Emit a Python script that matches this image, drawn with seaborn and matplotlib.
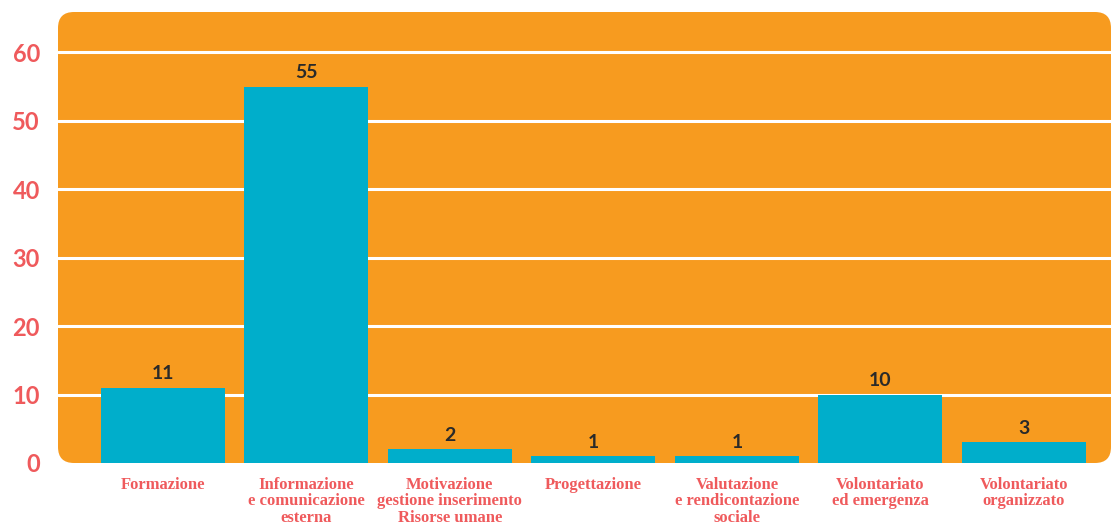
import matplotlib
matplotlib.use("Agg")
import matplotlib.pyplot as plt
from matplotlib.patches import FancyBboxPatch
import seaborn as sns
import pandas as pd

categories = [
    "Formazione",
    "Informazione\ne comunicazione\nesterna",
    "Motivazione\ngestione inserimento\nRisorse umane",
    "Progettazione",
    "Valutazione\ne rendicontazione\nsociale",
    "Volontariato\ned emergenza",
    "Volontariato\norganizzato",
]
values = [11, 55, 2, 1, 1, 10, 3]
yticks = [0, 10, 20, 30, 40, 50, 60]

ORANGE = "#F79B1F"
TEAL = "#00AECB"
SALMON = "#EF5A5C"
DARK = "#2A2A2A"

sns.set_theme(style="white")
plt.rcParams["font.family"] = ["Lato", "DejaVu Sans"]

W, H = 1113, 526
fig = plt.figure(figsize=(W / 100, H / 100), dpi=100)
left, right, top, bottom = 58, 1113, 12, 463
ax = fig.add_axes([left / W, (H - bottom) / H, (right - left) / W, (bottom - top) / H])
ax.set_facecolor("none")

# rounded orange panel
panel = FancyBboxPatch(
    (left / W, (H - bottom) / H), (right - left - 2) / W, (bottom - top) / H,
    boxstyle="round,pad=0,rounding_size=%f" % (16 / W),
    mutation_aspect=W / H,
    transform=fig.transFigure, facecolor=ORANGE, edgecolor="none", zorder=0,
    clip_on=False,
)
ax.add_patch(panel)

df = pd.DataFrame({"cat": categories, "val": values})
sns.barplot(data=df, x="cat", y="val", color=TEAL, saturation=1, width=0.864,
            linewidth=0, edgecolor="none", ax=ax, zorder=3)

ax.set_xlim(-0.73, 6.62)
ax.set_ylim(0, 65.9)
ax.set_yticks(yticks)
for t in yticks[1:]:
    ax.axhline(t, color="white", lw=2.2, zorder=2)

for c in ax.containers:
    ax.bar_label(c, labels=[str(v) for v in values], padding=4, fontsize=14,
                 fontweight="bold", color=DARK, family=["Lato", "DejaVu Sans"])

ax.set_xlabel("")
ax.set_ylabel("")
ax.tick_params(axis="y", length=0, pad=13, labelsize=17, labelcolor=SALMON)
for lab in ax.get_yticklabels():
    lab.set_fontweight("bold")
ax.tick_params(axis="x", length=0, pad=10)
ax.set_xticks(range(len(categories)))
ax.set_xticklabels(categories, fontsize=12, color=SALMON, fontweight="bold",
                   family=["Liberation Serif", "DejaVu Serif"], linespacing=1.05, va="top")
for s in ax.spines.values():
    s.set_visible(False)

fig.savefig("out.png", dpi=100)
